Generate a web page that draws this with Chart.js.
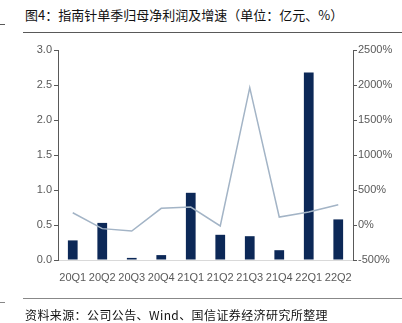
<!DOCTYPE html>
<html>
<head>
<meta charset="utf-8">
<script src="https://cdn.jsdelivr.net/npm/chart.js@4"></script>
<style>
  html, body { margin: 0; padding: 0; background: #fff; }
  #wrap { position: relative; width: 402px; height: 323px; overflow: hidden; }
  #zhutu { position: absolute; left: 0; top: 0; }
  .biaoti { position: absolute; left: 25px; top: 5px; font: 13px "Noto Sans CJK SC", sans-serif; color: #111; white-space: nowrap; }
  .laiyuan { position: absolute; left: 25px; top: 306px; font: 12px "Noto Sans CJK SC", sans-serif; color: #111; white-space: nowrap; letter-spacing: 0.4px; }
  .xian { position: absolute; height: 1px; background: #595959; }
</style>
</head>
<body>
<div id="wrap">
  <div class="biaoti">图4：指南针单季归母净利润及增速（单位：亿元、%）</div>
  <div class="xian" style="left:0;width:5px;top:24px;"></div>
  <div class="xian" style="left:23px;width:379px;top:32px;"></div>
  <canvas id="zhutu" width="402" height="323"></canvas>
  <div class="xian" style="left:0;width:5px;top:302px;background:#888;"></div>
  <div class="xian" style="left:23px;width:379px;top:298px;background:#888;"></div>
  <div class="laiyuan">资料来源：公司公告、Wind、国信证券经济研究所整理</div>
</div>
<script>
// 季度、归母净利润（亿元）、同比增速（%）
var jidu = ['20Q1','20Q2','20Q3','20Q4','21Q1','21Q2','21Q3','21Q4','22Q1','22Q2'];
var jinglirun = [0.28, 0.53, 0.03, 0.07, 0.96, 0.36, 0.34, 0.14, 2.68, 0.58];
var zengsu = [175, -52, -86, 238, 257, -14, 1962, 114, 186, 290];

var ziti = { family: 'Liberation Sans, Arial, sans-serif', size: 11 };
var huise = '#595959';

var ctx = document.getElementById('zhutu');
new Chart(ctx, {
  data: {
    labels: jidu,
    datasets: [{
      type: 'line',
      data: zengsu,
      yAxisID: 'y2',
      borderColor: '#A3B4C6',
      borderWidth: 1.5,
      pointRadius: 0,
      tension: 0,
      order: 0
    }, {
      type: 'bar',
      data: jinglirun,
      yAxisID: 'y',
      backgroundColor: '#0C2857',
      categoryPercentage: 1,
      barPercentage: 0.33,
      order: 1
    }]
  },
  options: {
    responsive: false,
    animation: false,
    layout: { padding: { top: 50, left: 0, right: 0, bottom: 0 } },
    plugins: { legend: { display: false }, tooltip: { enabled: false } },
    scales: {
      x: {
        grid: { display: false },
        border: { color: '#D9D9D9' },
        ticks: { font: ziti, color: huise, padding: 3, maxRotation: 0, autoSkip: false },
        afterFit: function (s) { s.height = 63; }
      },
      y: {
        position: 'left',
        min: 0, max: 3,
        grid: { drawOnChartArea: false, tickLength: 4, color: huise },
        border: { color: huise },
        ticks: { stepSize: 0.5, font: ziti, color: huise, padding: 2,
          callback: function (v) { return v.toFixed(1); } },
        afterFit: function (s) { s.width = 58; }
      },
      y2: {
        position: 'right',
        min: -500, max: 2500,
        grid: { drawOnChartArea: false, tickLength: 4, color: huise },
        border: { color: huise },
        ticks: { stepSize: 500, font: ziti, color: huise, padding: 1,
          callback: function (v) { return v + '%'; } },
        afterFit: function (s) { s.width = 49; }
      }
    }
  }
});
</script>
</body>
</html>
